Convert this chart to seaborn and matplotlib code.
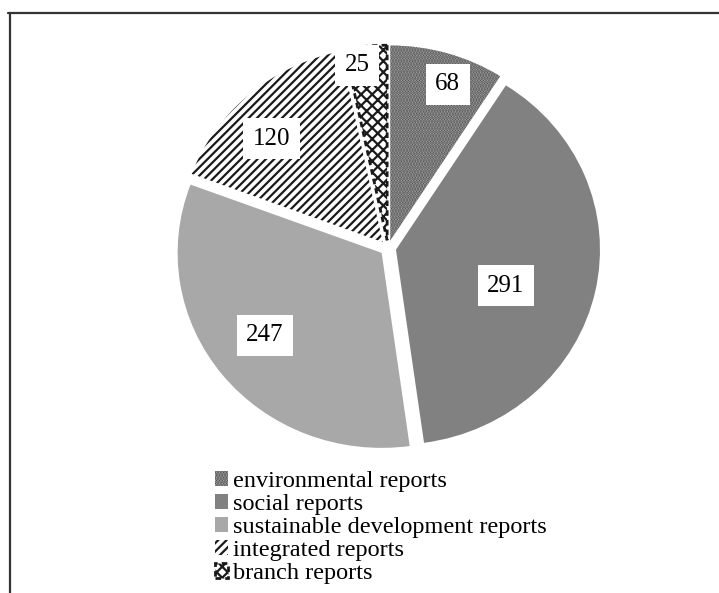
import numpy as np
import matplotlib
matplotlib.use("Agg")
import matplotlib.pyplot as plt
from matplotlib.lines import Line2D
import seaborn as sns

categories = ["environmental reports", "social reports", "sustainable development reports",
              "integrated reports", "branch reports"]
values = [68, 291, 247, 120, 25]

sns.set_theme(style="white")
plt.rcParams['font.family'] = ['Liberation Serif', 'DejaVu Serif']
plt.rcParams['hatch.linewidth'] = 1.6

W, H = 719, 593
fig = plt.figure(figsize=(W / 100, H / 100), dpi=100)
fig.patch.set_facecolor("white")

cx, cy, Rx, Ry = 388, 248, 204, 195
aw, ah = 2.2 * Rx, 2.2 * Ry
ax = fig.add_axes([(cx - aw / 2) / W, (H - cy - ah / 2) / H, aw / W, ah / H])

faces = ["#b4b4b4", "#818181", "#a8a8a8", "white", "white"]
edges = ["#4a4a4a", "#818181", "#a8a8a8", "#1a1a1a", "#2a2a2a"]
hatches = ["......", None, None, "////", "xxx"]

wedges, _ = ax.pie(values, startangle=90, counterclock=False,
                   explode=[0.04] * len(values), radius=1.0)
for w, fc, ec, h in zip(wedges, faces, edges, hatches):
    w.set_facecolor(fc)
    w.set_edgecolor(ec)
    w.set_linewidth(0)
    if h:
        w.set_hatch(h)
# dashed outline on branch slice
wedges[4].set_linewidth(2.0)
wedges[4].set_linestyle((0, (2, 1.5)))
wedges[4].set_edgecolor("#1a1a1a")

ax.set_aspect("auto")
ax.set_xlim(-1.1, 1.1)
ax.set_ylim(-1.1, 1.1)
ax.axis("off")

# label placement: (radius fraction, angle offset from slice middle, degrees)
label_pos = [(0.85, -3.0), (0.57, -6.6), (0.71, -2.3), (0.76, 5.1), (0.91, 3.3)]
for w, v, (r, da) in zip(wedges, values, label_pos):
    mid = np.deg2rad((w.theta1 + w.theta2) / 2 + da)
    x0, y0 = w.center
    ax.text(x0 + r * np.cos(mid), y0 + r * np.sin(mid), str(v),
            ha="center", va="center", fontsize=18, color="black",
            bbox=dict(boxstyle="square,pad=0.38", fc="white", ec="none"))

leg = fig.legend(wedges, categories, loc="upper left",
                 bbox_to_anchor=(215 / W, 1 - 471 / H), frameon=False,
                 fontsize=17.5, labelspacing=0.08, handlelength=0.55,
                 handleheight=0.55, handletextpad=0.2, borderpad=0,
                 borderaxespad=0)
for t in leg.get_texts():
    t.set_color("black")

# figure border lines (top and left)
fig.add_artist(Line2D([8 / W, 1.0], [1 - 13 / H, 1 - 13 / H],
                      transform=fig.transFigure, color="#333333", lw=1.6))
fig.add_artist(Line2D([10 / W, 10 / W], [0, 1 - 13 / H],
                      transform=fig.transFigure, color="#333333", lw=1.6))

fig.savefig("out.png", dpi=100, facecolor="white")
